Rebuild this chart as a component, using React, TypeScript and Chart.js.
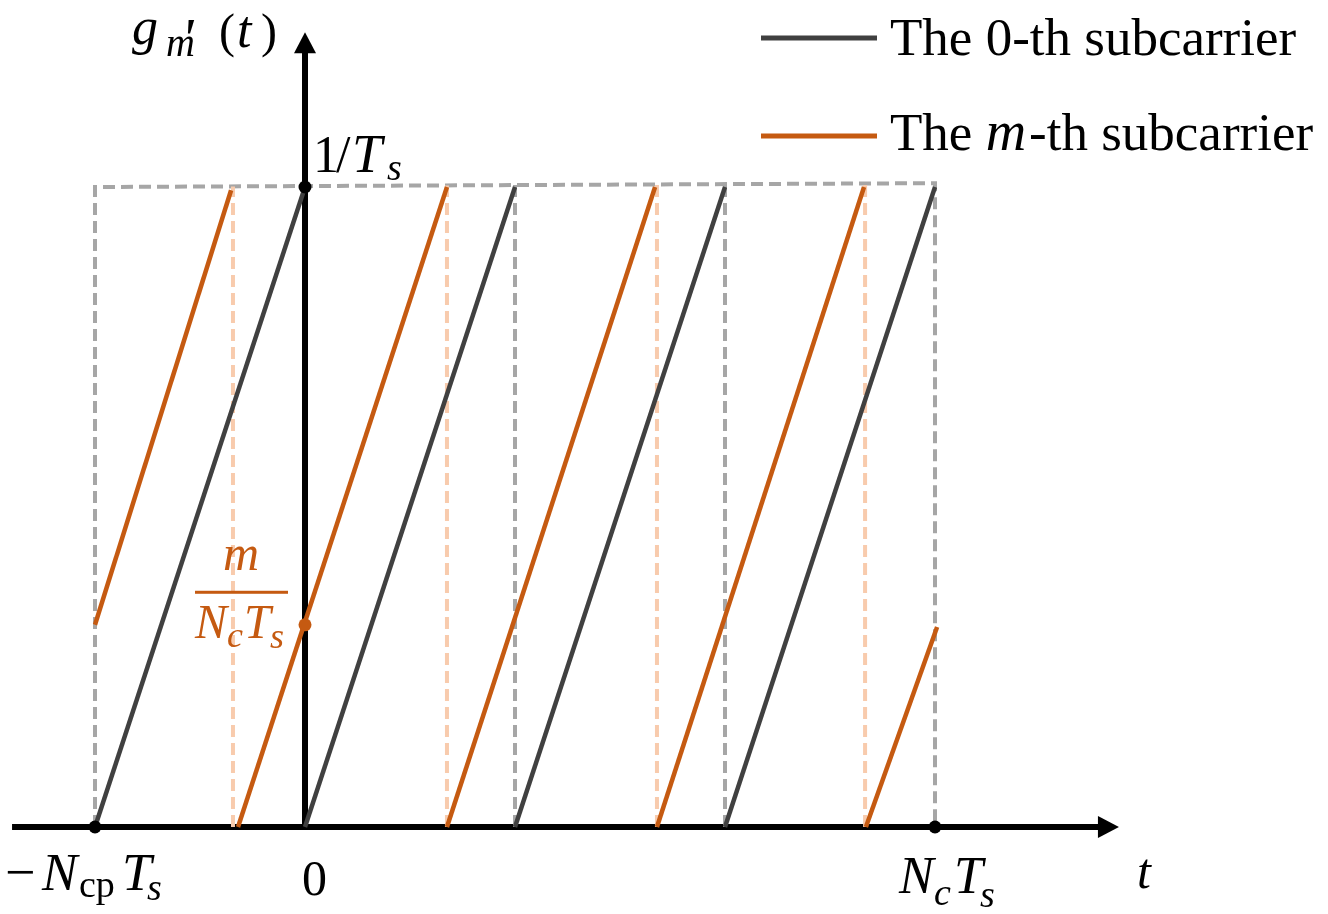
import React, { useEffect, useRef } from "react";
import { Chart, registerables } from "chart.js";

Chart.register(...registerables);

// time axis in units of the CP length (Ncp*Ts); amplitude in units of 1/Ts
const markerT = [-1, 0, 3]; // -Ncp*Ts, 0, Nc*Ts
const markerY = [0, 1, 0];
const blackStartT = [-1, 0, 1, 2];
const blackEndT = [0, 1, 2, 3];
const orangeStartT = [-1, -0.319, 0.676, 1.676, 2.671];
const orangeStartY = [0.316, 0, 0, 0, 0];
const orangeEndT = [-0.352, 0.676, 1.667, 2.662, 3.01];
const orangeEndY = [0.995, 1, 1, 1, 0.3125];
const peachDashT = [-0.343, 0.676, 1.676, 2.667];
const grayDashT = [-1, 1, 2, 3];
const boxTopY = [1, 1.006]; // left / right end of the dashed top edge
const mLevel = 0.316; // m/(Nc Ts)
const legendLabels = ["The 0-th subcarrier", "The m-th subcarrier"];

const X_MIN = -1.4524;
const X_MAX = 4.8714;
const Y_MIN = -0.1359;
const Y_MAX = 1.2922;
const AXIS_X_START = -1.395;
const AXIS_X_TIP = 3.876;
const AXIS_Y_TIP = 1.242;

const BLACK = "#404040";
const ORANGE = "#c55a11";
const PEACH = "#f8cbad";
const GRAY = "#a6a6a6";

const SERIF = '"Liberation Serif", "Times New Roman", serif';
const reg = (s: number) => `${s}px ${SERIF}`;
const it = (s: number) => `italic ${s}px ${SERIF}`;

type Run = { t: string; f: string; x: number; y: number; c?: string; align?: CanvasTextAlign };

function drawRuns(ctx: CanvasRenderingContext2D, runs: Run[], color: string) {
  for (const r of runs) {
    ctx.font = r.f;
    ctx.fillStyle = r.c || color;
    ctx.textAlign = r.align || "left";
    ctx.textBaseline = "alphabetic";
    ctx.fillText(r.t, r.x, r.y);
  }
}

const topAt = (t: number) =>
  boxTopY[0] + ((t - grayDashT[0]) / (grayDashT[grayDashT.length - 1] - grayDashT[0])) * (boxTopY[1] - boxTopY[0]);

export default function App() {
  const ref = useRef<HTMLCanvasElement | null>(null);

  useEffect(() => {
    if (!ref.current) return;
    const datasets: any[] = [];

    const dashed = (pts: { x: number; y: number }[], color: string, order: number) => ({
      data: pts,
      borderColor: color,
      borderWidth: 4,
      borderDash: [12, 6],
      order,
    });

    // gray dashed frame
    const gl = grayDashT[0];
    const gr = grayDashT[grayDashT.length - 1];
    datasets.push(
      dashed(
        [
          { x: gl, y: 0 },
          { x: gl, y: topAt(gl) },
          { x: gr, y: topAt(gr) },
          { x: gr, y: 0 },
        ],
        GRAY,
        5
      )
    );
    grayDashT.slice(1, -1).forEach((t) =>
      datasets.push(
        dashed(
          [
            { x: t, y: 0 },
            { x: t, y: topAt(t) },
          ],
          GRAY,
          5
        )
      )
    );
    // peach dashed resets of the m-th subcarrier
    peachDashT.forEach((t) =>
      datasets.push(
        dashed(
          [
            { x: t, y: 0 },
            { x: t, y: topAt(t) },
          ],
          PEACH,
          4
        )
      )
    );
    // 0-th subcarrier
    blackStartT.forEach((t, i) =>
      datasets.push({
        data: [
          { x: t, y: 0 },
          { x: blackEndT[i], y: 1 },
        ],
        borderColor: BLACK,
        borderWidth: 4.5,
        order: 3,
      })
    );
    // m-th subcarrier
    orangeStartT.forEach((t, i) =>
      datasets.push({
        data: [
          { x: t, y: orangeStartY[i] },
          { x: orangeEndT[i], y: orangeEndY[i] },
        ],
        borderColor: ORANGE,
        borderWidth: 4.5,
        order: 2,
      })
    );
    // markers
    datasets.push({
      data: markerT.map((t, i) => ({ x: t, y: markerY[i] })),
      showLine: false,
      pointRadius: 6.5,
      pointBackgroundColor: "#000",
      pointBorderWidth: 0,
      order: 1,
    });
    datasets.push({
      data: [{ x: 0, y: mLevel }],
      showLine: false,
      pointRadius: 6.5,
      pointBackgroundColor: ORANGE,
      pointBorderWidth: 0,
      order: 0,
    });
    datasets.forEach((d) => {
      if (d.showLine === undefined) d.showLine = true;
      if (d.pointRadius === undefined) d.pointRadius = 0;
      d.borderCapStyle = "butt";
      d.fill = false;
    });

    const axesPlugin = {
      id: "axes",
      beforeDatasetsDraw(chart: any) {
        const ctx: CanvasRenderingContext2D = chart.ctx;
        const xs = chart.scales.x;
        const ys = chart.scales.y;
        const x0 = xs.getPixelForValue(0);
        const y0 = ys.getPixelForValue(0);
        const xStart = xs.getPixelForValue(AXIS_X_START);
        const xTip = xs.getPixelForValue(AXIS_X_TIP);
        const yTip = ys.getPixelForValue(AXIS_Y_TIP);
        ctx.save();
        ctx.strokeStyle = "#000";
        ctx.fillStyle = "#000";
        ctx.lineWidth = 6;
        ctx.lineCap = "butt";
        ctx.beginPath();
        ctx.moveTo(xStart, y0);
        ctx.lineTo(xTip - 18, y0);
        ctx.moveTo(x0, y0 + 3);
        ctx.lineTo(x0, yTip + 18);
        ctx.stroke();
        ctx.beginPath();
        ctx.moveTo(xTip, y0);
        ctx.lineTo(xTip - 21, y0 - 11);
        ctx.lineTo(xTip - 21, y0 + 11);
        ctx.closePath();
        ctx.fill();
        ctx.beginPath();
        ctx.moveTo(x0, yTip);
        ctx.lineTo(x0 - 11, yTip + 21);
        ctx.lineTo(x0 + 11, yTip + 21);
        ctx.closePath();
        ctx.fill();
        ctx.restore();
      },
      afterDraw(chart: any) {
        const ctx: CanvasRenderingContext2D = chart.ctx;
        const xs = chart.scales.x;
        const ys = chart.scales.y;
        const x0 = xs.getPixelForValue(0);
        const y0 = ys.getPixelForValue(0);
        const y1 = ys.getPixelForValue(1);
        const ym = ys.getPixelForValue(mLevel);
        const xL = xs.getPixelForValue(markerT[0]);
        const xR = xs.getPixelForValue(markerT[2]);
        ctx.save();
        // y-axis title g'_m (t)
        drawRuns(
          ctx,
          [
            { t: "g", f: it(52), x: 132, y: 44 },
            { t: "m", f: it(40), x: 166, y: 56 },
            { t: "(", f: reg(48), x: 219, y: 47 },
            { t: "t", f: it(52), x: 237, y: 47 },
            { t: ")", f: reg(48), x: 261, y: 47 },
          ],
          "#000"
        );
        // prime above the subscript: glyph top placed at y = 20
        ctx.font = it(58);
        const pm = ctx.measureText("'");
        const pTop = pm.actualBoundingBoxAscent || 40;
        ctx.fillStyle = "#000";
        ctx.textAlign = "left";
        ctx.fillText("'", 181, 20 + pTop);
        // 1/Ts
        drawRuns(
          ctx,
          [
            { t: "1", f: reg(52), x: x0 + 8, y: y1 - 15 },
            { t: "/", f: reg(52), x: x0 + 31, y: y1 - 15 },
            { t: "T", f: it(54), x: x0 + 47, y: y1 - 15 },
            { t: "s", f: it(38), x: x0 + 82, y: y1 - 7 },
          ],
          "#000"
        );
        // m/(Nc Ts)
        drawRuns(
          ctx,
          [
            { t: "m", f: it(50), x: x0 - 64, y: ym - 55, align: "center" },
            { t: "N", f: it(48), x: x0 - 110, y: ym + 13 },
            { t: "c", f: it(36), x: x0 - 78, y: ym + 22 },
            { t: "T", f: it(48), x: x0 - 61, y: ym + 13 },
            { t: "s", f: it(36), x: x0 - 35, y: ym + 23 },
          ],
          ORANGE
        );
        ctx.fillStyle = ORANGE;
        ctx.fillRect(x0 - 110, ym - 34, 93, 3);
        // tick labels
        drawRuns(
          ctx,
          [
            { t: "\u2212", f: reg(54), x: xL - 90, y: y0 + 63 },
            { t: "N", f: it(53), x: xL - 53, y: y0 + 63 },
            { t: "cp", f: reg(38), x: xL - 16, y: y0 + 70 },
            { t: "T", f: it(53), x: xL + 27, y: y0 + 63 },
            { t: "s", f: it(38), x: xL + 52, y: y0 + 73 },
            { t: "0", f: reg(50), x: x0 - 3, y: y0 + 68 },
            { t: "N", f: it(52), x: xR - 36, y: y0 + 66 },
            { t: "c", f: it(38), x: xR - 1, y: y0 + 78 },
            { t: "T", f: it(52), x: xR + 19, y: y0 + 66 },
            { t: "s", f: it(38), x: xR + 45, y: y0 + 80 },
            { t: "t", f: it(50), x: 1137, y: y0 + 61 },
          ],
          "#000"
        );
        // legend
        const legendColors = [BLACK, ORANGE];
        const legendY = [38, 136];
        const baseY = [55, 150];
        legendLabels.forEach((lab, i) => {
          ctx.strokeStyle = legendColors[i];
          ctx.lineWidth = 5;
          ctx.lineCap = "butt";
          ctx.beginPath();
          ctx.moveTo(761, legendY[i]);
          ctx.lineTo(877, legendY[i]);
          ctx.stroke();
          ctx.fillStyle = "#000";
          ctx.textAlign = "left";
          ctx.textBaseline = "alphabetic";
          const parts = lab.split("m-th");
          if (parts.length === 2) {
            let x = 890;
            ctx.font = reg(53);
            ctx.fillText(parts[0], x, baseY[i]);
            x += ctx.measureText(parts[0]).width;
            ctx.font = it(56);
            ctx.fillText("m", x, baseY[i]);
            x += ctx.measureText("m").width + 3;
            ctx.font = reg(53);
            ctx.fillText("-th" + parts[1], x, baseY[i]);
          } else {
            ctx.font = reg(53);
            ctx.fillText(lab, 890, baseY[i]);
          }
        });
        ctx.restore();
      },
    };

    const chart = new Chart(ref.current, {
      type: "scatter",
      data: { datasets },
      options: {
        animation: false,
        responsive: true,
        maintainAspectRatio: false,
        events: [],
        layout: { padding: 0, autoPadding: false },
        plugins: { legend: { display: false }, tooltip: { enabled: false } },
        scales: {
          x: { type: "linear", min: X_MIN, max: X_MAX, display: false },
          y: { type: "linear", min: Y_MIN, max: Y_MAX, display: false },
        },
      } as any,
      plugins: [axesPlugin],
    });
    return () => chart.destroy();
  }, []);

  return (
    <div style={{ position: "fixed", left: 0, top: 0, width: 1328, height: 914, background: "#fff" }}>
      <canvas ref={ref} />
    </div>
  );
}
